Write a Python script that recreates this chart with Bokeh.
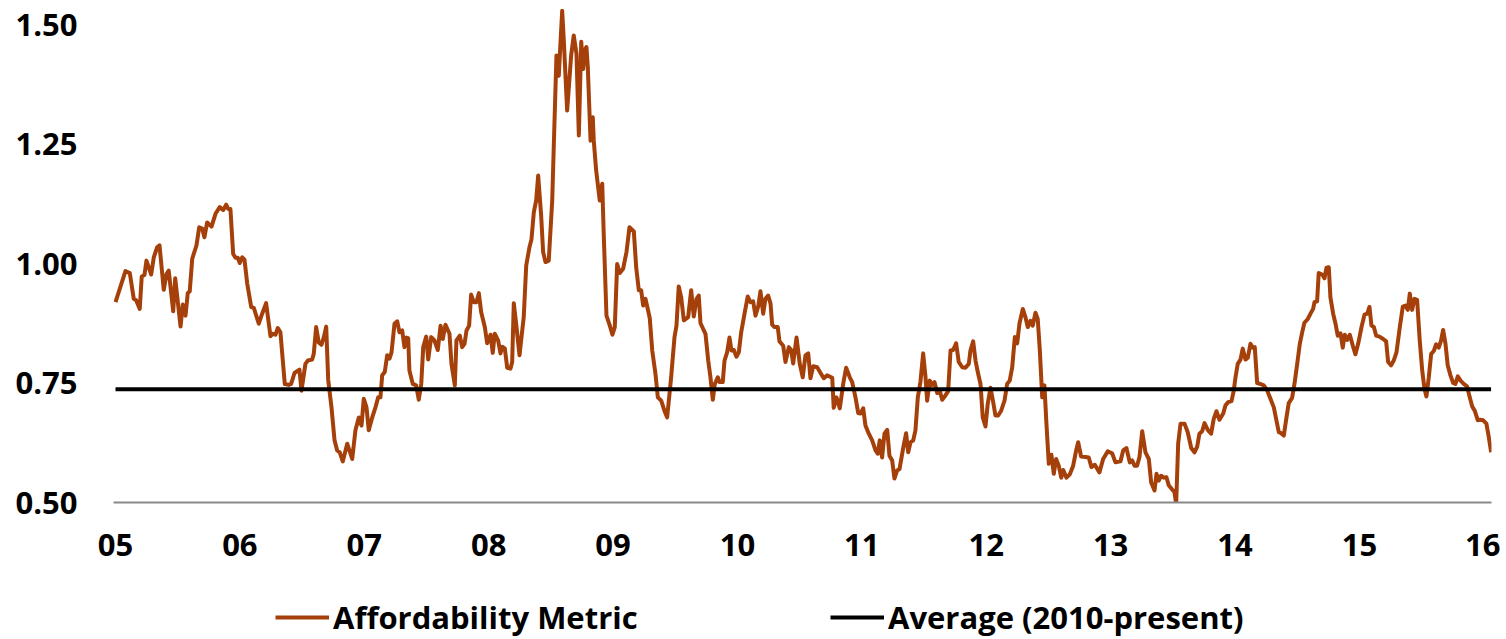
from bokeh.plotting import figure
from bokeh.layouts import column
from bokeh.models import FixedTicker, NumeralTickFormatter, Legend, LegendItem, Range1d, ColumnDataSource
from bokeh.embed import file_html
from bokeh.resources import INLINE

# ---------------- data ----------------
start_year = 2005
# time offsets (years since start of 2005) and metric values
t_offsets = [
    0.000, 0.080, 0.115, 0.147, 0.166, 0.195, 0.211, 0.233, 0.249, 0.287, 0.308, 0.335, 0.354, 0.388, 0.410,
    0.428, 0.464, 0.480, 0.523, 0.541, 0.563, 0.581, 0.597, 0.617, 0.651, 0.673, 0.697, 0.715, 0.737, 0.772,
    0.804, 0.838, 0.866, 0.890, 0.906, 0.924, 0.946, 0.965, 0.983, 0.999, 1.019, 1.037, 1.059, 1.091, 1.112,
    1.152, 1.179, 1.211, 1.246, 1.265, 1.286, 1.305, 1.326, 1.361, 1.393, 1.412, 1.439, 1.479, 1.495, 1.527,
    1.546, 1.581, 1.594, 1.613, 1.634, 1.656, 1.675, 1.694, 1.710, 1.736, 1.761, 1.782, 1.803, 1.827, 1.863,
    1.903, 1.929, 1.956, 1.978, 1.996, 2.018, 2.036, 2.064, 2.090, 2.112, 2.130, 2.144, 2.165, 2.184, 2.203,
    2.219, 2.243, 2.265, 2.283, 2.305, 2.323, 2.339, 2.353, 2.363, 2.390, 2.417, 2.438, 2.458, 2.474, 2.498,
    2.514, 2.538, 2.564, 2.591, 2.613, 2.631, 2.653, 2.685, 2.701, 2.728, 2.741, 2.768, 2.787, 2.806, 2.822,
    2.843, 2.859, 2.880, 2.902, 2.921, 2.940, 2.969, 2.988, 3.015, 3.033, 3.049, 3.076, 3.095, 3.109, 3.130,
    3.149, 3.175, 3.189, 3.202, 3.221, 3.248, 3.282, 3.302, 3.328, 3.344, 3.363, 3.382, 3.398, 3.422, 3.438,
    3.457, 3.483, 3.511, 3.524, 3.545, 3.564, 3.572, 3.591, 3.604, 3.631, 3.663, 3.684, 3.706, 3.725, 3.744,
    3.760, 3.773, 3.786, 3.797, 3.819, 3.837, 3.845, 3.864, 3.893, 3.913, 3.925, 3.947, 3.974, 3.995, 4.014,
    4.033, 4.054, 4.081, 4.108, 4.132, 4.167, 4.186, 4.207, 4.226, 4.242, 4.261, 4.295, 4.315, 4.341, 4.360,
    4.387, 4.413, 4.435, 4.467, 4.494, 4.510, 4.528, 4.548, 4.569, 4.604, 4.628, 4.649, 4.671, 4.689, 4.703,
    4.743, 4.765, 4.783, 4.802, 4.818, 4.842, 4.856, 4.882, 4.896, 4.917, 4.936, 4.952, 4.971, 4.992, 5.011,
    5.030, 5.057, 5.083, 5.105, 5.126, 5.145, 5.167, 5.185, 5.207, 5.225, 5.247, 5.266, 5.279, 5.298, 5.324,
    5.338, 5.368, 5.386, 5.413, 5.432, 5.448, 5.475, 5.501, 5.525, 5.547, 5.569, 5.587, 5.609, 5.641, 5.668,
    5.694, 5.721, 5.762, 5.774, 5.796, 5.823, 5.850, 5.874, 5.903, 5.922, 5.949, 5.971, 5.989, 6.011, 6.029,
    6.056, 6.083, 6.110, 6.128, 6.144, 6.163, 6.182, 6.204, 6.222, 6.244, 6.262, 6.284, 6.303, 6.329, 6.356,
    6.373, 6.391, 6.413, 6.431, 6.450, 6.471, 6.493, 6.512, 6.525, 6.546, 6.565, 6.584, 6.606, 6.627, 6.646,
    6.672, 6.694, 6.713, 6.734, 6.758, 6.779, 6.807, 6.833, 6.860, 6.873, 6.895, 6.914, 6.932, 6.954, 6.972,
    6.994, 7.012, 7.034, 7.056, 7.074, 7.096, 7.120, 7.147, 7.168, 7.189, 7.209, 7.230, 7.249, 7.267, 7.294,
    7.315, 7.334, 7.356, 7.374, 7.396, 7.414, 7.431, 7.450, 7.468, 7.484, 7.503, 7.524, 7.543, 7.562, 7.583,
    7.603, 7.619, 7.645, 7.672, 7.699, 7.723, 7.739, 7.763, 7.798, 7.824, 7.846, 7.873, 7.910, 7.940, 7.977,
    8.012, 8.039, 8.079, 8.101, 8.127, 8.154, 8.173, 8.192, 8.213, 8.232, 8.254, 8.280, 8.307, 8.326, 8.353,
    8.369, 8.387, 8.406, 8.427, 8.449, 8.467, 8.495, 8.513, 8.527, 8.543, 8.562, 8.594, 8.620, 8.648, 8.674,
    8.696, 8.714, 8.736, 8.755, 8.781, 8.808, 8.829, 8.851, 8.875, 8.905, 8.923, 8.945, 8.972, 8.990, 9.004,
    9.022, 9.044, 9.062, 9.084, 9.103, 9.124, 9.143, 9.159, 9.178, 9.205, 9.231, 9.258, 9.285, 9.312, 9.333,
    9.352, 9.371, 9.392, 9.414, 9.432, 9.459, 9.478, 9.500, 9.521, 9.540, 9.558, 9.585, 9.607, 9.628, 9.639,
    9.660, 9.673, 9.701, 9.719, 9.735, 9.754, 9.767, 9.789, 9.808, 9.826, 9.848, 9.866, 9.882, 9.902, 9.923,
    9.947, 9.968, 9.990, 10.017, 10.041, 10.063, 10.081, 10.097, 10.116, 10.135, 10.161, 10.191, 10.215, 10.231, 10.255,
    10.276, 10.298, 10.325, 10.349, 10.370, 10.389, 10.405, 10.424, 10.443, 10.464, 10.485, 10.505, 10.523, 10.539, 10.558,
    10.577, 10.598, 10.617, 10.638, 10.657, 10.673, 10.692, 10.710, 10.732, 10.754, 10.772, 10.791, 10.813, 10.839, 10.866,
    10.887, 10.907, 10.927, 10.952, 10.973, 10.995, 11.021, 11.040, 11.059,
]
metric = [
    0.919, 0.984, 0.980, 0.926, 0.923, 0.905, 0.973, 0.976, 1.006, 0.977, 1.013, 1.034, 1.038, 0.945, 0.978,
    0.985, 0.900, 0.969, 0.868, 0.914, 0.891, 0.938, 0.942, 1.010, 1.038, 1.076, 1.073, 1.055, 1.086, 1.077,
    1.104, 1.118, 1.112, 1.123, 1.114, 1.114, 1.020, 1.012, 1.012, 1.001, 1.013, 1.008, 0.958, 0.909, 0.907,
    0.874, 0.895, 0.917, 0.848, 0.853, 0.851, 0.865, 0.856, 0.748, 0.746, 0.748, 0.771, 0.778, 0.734, 0.790,
    0.797, 0.799, 0.811, 0.867, 0.835, 0.830, 0.846, 0.868, 0.757, 0.700, 0.630, 0.609, 0.605, 0.586, 0.623,
    0.591, 0.651, 0.678, 0.661, 0.717, 0.699, 0.651, 0.678, 0.699, 0.720, 0.720, 0.766, 0.773, 0.808, 0.801,
    0.814, 0.874, 0.879, 0.856, 0.860, 0.825, 0.845, 0.844, 0.776, 0.748, 0.745, 0.715, 0.748, 0.825, 0.847,
    0.799, 0.846, 0.839, 0.819, 0.870, 0.842, 0.872, 0.853, 0.790, 0.745, 0.839, 0.849, 0.825, 0.832, 0.860,
    0.870, 0.935, 0.919, 0.919, 0.938, 0.898, 0.867, 0.833, 0.851, 0.813, 0.853, 0.839, 0.812, 0.826, 0.822,
    0.782, 0.780, 0.794, 0.917, 0.874, 0.808, 0.888, 0.996, 1.034, 1.050, 1.107, 1.132, 1.184, 1.100, 1.024,
    1.003, 1.006, 1.132, 1.250, 1.435, 1.393, 1.435, 1.529, 1.467, 1.320, 1.435, 1.477, 1.439, 1.268, 1.464,
    1.407, 1.446, 1.453, 1.411, 1.257, 1.306, 1.257, 1.195, 1.132, 1.167, 1.062, 0.891, 0.870, 0.851, 0.867,
    0.999, 0.980, 0.989, 1.024, 1.076, 1.067, 0.992, 0.944, 0.944, 0.912, 0.926, 0.886, 0.818, 0.769, 0.720,
    0.713, 0.692, 0.678, 0.762, 0.846, 0.870, 0.952, 0.929, 0.881, 0.888, 0.944, 0.889, 0.926, 0.933, 0.875,
    0.853, 0.797, 0.762, 0.715, 0.748, 0.762, 0.752, 0.752, 0.797, 0.814, 0.845, 0.818, 0.819, 0.805, 0.814,
    0.856, 0.895, 0.931, 0.919, 0.921, 0.891, 0.910, 0.942, 0.895, 0.926, 0.933, 0.916, 0.872, 0.867, 0.867,
    0.837, 0.828, 0.794, 0.825, 0.819, 0.791, 0.845, 0.790, 0.762, 0.808, 0.812, 0.760, 0.785, 0.783, 0.771,
    0.760, 0.766, 0.761, 0.698, 0.720, 0.697, 0.748, 0.782, 0.762, 0.752, 0.720, 0.687, 0.686, 0.697, 0.661,
    0.644, 0.630, 0.609, 0.602, 0.630, 0.594, 0.644, 0.652, 0.598, 0.588, 0.550, 0.567, 0.570, 0.609, 0.645,
    0.605, 0.626, 0.630, 0.651, 0.720, 0.752, 0.812, 0.762, 0.713, 0.755, 0.746, 0.752, 0.729, 0.733, 0.715,
    0.724, 0.733, 0.818, 0.819, 0.833, 0.794, 0.783, 0.782, 0.790, 0.818, 0.837, 0.797, 0.773, 0.748, 0.678,
    0.659, 0.706, 0.740, 0.710, 0.682, 0.682, 0.692, 0.713, 0.748, 0.755, 0.783, 0.846, 0.833, 0.874, 0.905,
    0.888, 0.867, 0.880, 0.870, 0.897, 0.884, 0.818, 0.720, 0.745, 0.665, 0.581, 0.600, 0.560, 0.591, 0.577,
    0.552, 0.568, 0.552, 0.559, 0.577, 0.609, 0.626, 0.596, 0.595, 0.594, 0.574, 0.579, 0.563, 0.591, 0.607,
    0.603, 0.584, 0.586, 0.609, 0.614, 0.584, 0.588, 0.577, 0.577, 0.595, 0.649, 0.605, 0.591, 0.542, 0.525,
    0.560, 0.546, 0.556, 0.552, 0.553, 0.536, 0.527, 0.522, 0.497, 0.623, 0.665, 0.665, 0.647, 0.614, 0.605,
    0.617, 0.644, 0.649, 0.666, 0.652, 0.644, 0.675, 0.691, 0.673, 0.686, 0.703, 0.710, 0.712, 0.734, 0.762,
    0.790, 0.799, 0.822, 0.799, 0.803, 0.832, 0.824, 0.825, 0.750, 0.748, 0.745, 0.735, 0.717, 0.699, 0.672,
    0.647, 0.645, 0.640, 0.678, 0.708, 0.719, 0.748, 0.790, 0.832, 0.856, 0.876, 0.884, 0.895, 0.905, 0.919,
    0.921, 0.980, 0.977, 0.969, 0.991, 0.992, 0.929, 0.895, 0.874, 0.849, 0.854, 0.824, 0.851, 0.840, 0.851,
    0.828, 0.810, 0.832, 0.867, 0.893, 0.895, 0.909, 0.870, 0.867, 0.849, 0.847, 0.842, 0.837, 0.794, 0.787,
    0.797, 0.814, 0.867, 0.910, 0.912, 0.903, 0.937, 0.903, 0.926, 0.924, 0.839, 0.776, 0.738, 0.722, 0.762,
    0.811, 0.817, 0.831, 0.824, 0.839, 0.861, 0.832, 0.787, 0.766, 0.750, 0.748, 0.764, 0.755, 0.748, 0.743,
    0.720, 0.701, 0.692, 0.672, 0.673, 0.672, 0.665, 0.637, 0.605,
]
average_2010_present = 0.737
tick_years = [2005, 2006, 2007, 2008, 2009, 2010, 2011, 2012, 2013, 2014, 2015, 2016]
tick_labels = ["05", "06", "07", "08", "09", "10", "11", "12", "13", "14", "15", "16"]
y_ticks = [0.50, 0.75, 1.00, 1.25, 1.50]
series_names = ["Affordability Metric", "Average (2010-present)"]

years = [start_year + t for t in t_offsets]

# ---------------- main figure ----------------
FONT = "Open Sans"
ORANGE = "#A5400A"
LW = 4
W = 1500

p = figure(width=W, height=578, output_backend="svg", toolbar_location=None,
           x_range=Range1d(2004.984, 2016.062), y_range=Range1d(0.5, 1.5335),
           min_border_left=113, min_border_right=9, min_border_top=8, min_border_bottom=76)
p.outline_line_color = None
p.grid.visible = False
p.background_fill_color = "white"

src = ColumnDataSource(dict(x=years, y=metric))
avg_src = ColumnDataSource(dict(x=[years[0], years[-1]], y=[average_2010_present] * 2))
p.line("x", "y", source=src, line_color=ORANGE, line_width=LW, line_join="round")
p.line("x", "y", source=avg_src, line_color="black", line_width=LW)

xa = p.xaxis[0]
xa.ticker = FixedTicker(ticks=tick_years)
xa.major_label_overrides = {y: l for y, l in zip(tick_years, tick_labels)}
xa.axis_line_color = "#898989"
xa.axis_line_width = 2
xa.major_tick_line_color = None
xa.minor_tick_line_color = None
xa.major_tick_out = 0
xa.major_tick_in = 0
xa.major_label_standoff = 31
xa.major_label_text_font = FONT
xa.major_label_text_font_style = "bold"
xa.major_label_text_font_size = "31px"
xa.major_label_text_color = "black"

ya = p.yaxis[0]
ya.ticker = FixedTicker(ticks=y_ticks)
ya.formatter = NumeralTickFormatter(format="0.00")
ya.axis_line_color = None
ya.major_tick_line_color = None
ya.minor_tick_line_color = None
ya.major_tick_out = 0
ya.major_tick_in = 0
ya.major_label_standoff = 36
ya.major_label_text_font = FONT
ya.major_label_text_font_style = "bold"
ya.major_label_text_font_size = "31px"
ya.major_label_text_color = "black"

# ---------------- legend strip (swatch renderers fall outside its ranges) ----------------
pl = figure(width=W, height=60, output_backend="svg", toolbar_location=None,
            x_axis_type=None, y_axis_type=None, x_range=Range1d(0, 1), y_range=Range1d(0, 1),
            min_border=0, min_border_left=0, min_border_right=0, min_border_top=0, min_border_bottom=0)
pl.outline_line_color = None
pl.grid.visible = False
leg_metric = pl.line("x", "y", source=src, line_color=ORANGE, line_width=LW)
leg_avg = pl.line("x", "y", source=avg_src, line_color="black", line_width=LW)


def make_legend(label, renderer, loc):
    lg = Legend(items=[LegendItem(label=label, renderers=[renderer])], location=loc,
                orientation="horizontal")
    lg.border_line_color = None
    lg.background_fill_alpha = 0
    lg.padding = 0
    lg.margin = 0
    lg.glyph_width = 54
    lg.glyph_height = 30
    lg.label_height = 30
    lg.label_standoff = 4
    lg.label_text_font = FONT
    lg.label_text_font_style = "bold"
    lg.label_text_font_size = "31px"
    lg.label_text_color = "black"
    return lg


# frame of the legend strip is aligned with the main plot frame (left edge at 113px)
pl.add_layout(make_legend(series_names[0], leg_metric, (162, 0)))
pl.add_layout(make_legend(series_names[1], leg_avg, (717, 0)))

layout = column(p, pl, spacing=0)
open("out.html", "w").write(file_html(layout, INLINE))
